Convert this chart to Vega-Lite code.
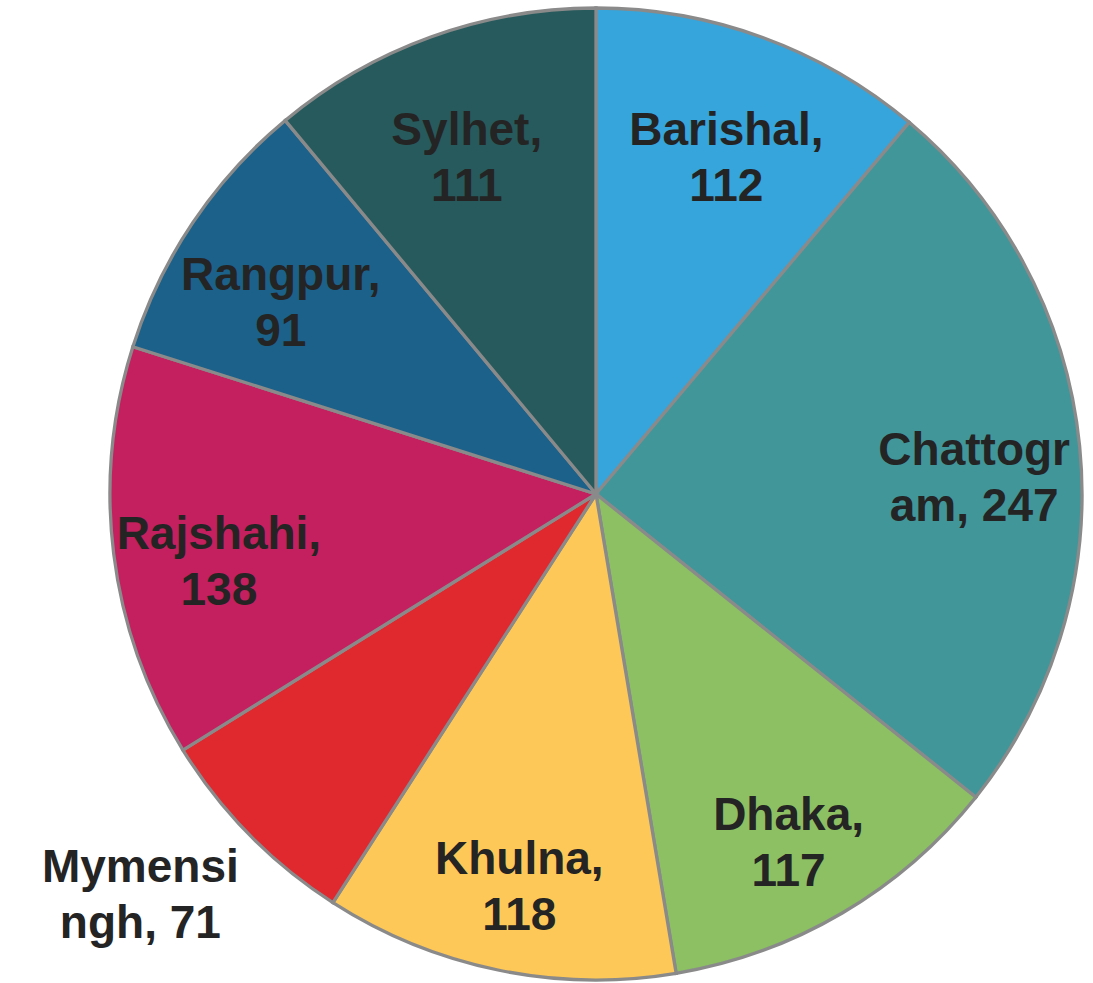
{
  "$schema": "https://vega.github.io/schema/vega-lite/v6.json",
  "autosize": {"type": "none"},
  "width": 994,
  "height": 978,
  "padding": {"left": 99, "top": 5, "right": 0, "bottom": 0},
  "background": "white",
  "view": {"stroke": null},
  "data": {
    "values": [
      {"name": "Barishal", "value": 112, "label": "Barishal,\n112"},
      {"name": "Chattogram", "value": 247, "label": "Chattogr\nam, 247"},
      {"name": "Dhaka", "value": 117, "label": "Dhaka,\n117"},
      {"name": "Khulna", "value": 118, "label": "Khulna,\n118"},
      {"name": "Mymensingh", "value": 71, "label": "Mymensi\nngh, 71"},
      {"name": "Rajshahi", "value": 138, "label": "Rajshahi,\n138"},
      {"name": "Rangpur", "value": 91, "label": "Rangpur,\n91"},
      {"name": "Sylhet", "value": 111, "label": "Sylhet,\n111"}
    ]
  },
  "encoding": {
    "theta": {"field": "value", "type": "quantitative", "stack": true}
  },
  "layer": [
    {
      "mark": {"type": "arc", "outerRadius": 486, "stroke": "#8a8a8a", "strokeWidth": 3.3},
      "encoding": {
        "color": {
          "field": "name",
          "type": "nominal",
          "legend": null,
          "scale": {
            "domain": ["Barishal", "Chattogram", "Dhaka", "Khulna", "Mymensingh", "Rajshahi", "Rangpur", "Sylhet"],
            "range": ["#36A5DB", "#41969A", "#8CC063", "#FDC857", "#E0282F", "#C41F5E", "#1B6189", "#275A5C"]
          }
        }
      }
    },
    {
      "mark": {"type": "text", "radius": 380, "dy": -6, "font": "Liberation Sans", "fontWeight": "bold", "fontSize": 46, "lineHeight": 56, "lineBreak": "\n", "align": "center", "baseline": "middle", "fill": "#242424"},
      "encoding": {
        "detail": {"field": "name", "type": "nominal"},
        "text": {"condition": {"test": "datum.name !== 'Mymensingh'", "field": "label"}, "value": ""}
      }
    },
    {
      "mark": {"type": "text", "radius": 580, "dx": -42, "dy": -33, "font": "Liberation Sans", "fontWeight": "bold", "fontSize": 46, "lineHeight": 56, "lineBreak": "\n", "align": "center", "baseline": "middle", "fill": "#242424"},
      "encoding": {
        "detail": {"field": "name", "type": "nominal"},
        "text": {"condition": {"test": "datum.name === 'Mymensingh'", "field": "label"}, "value": ""}
      }
    }
  ]
}
